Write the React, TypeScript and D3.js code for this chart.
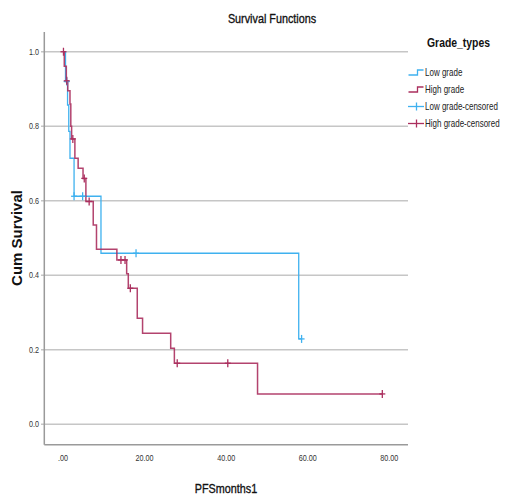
import React from "react";
import * as d3 from "d3";

const yTicks = [0, 0.2, 0.4, 0.6, 0.8, 1.0];
const xTicks = [0, 20, 40, 60, 80];

const lowTimes = [0, 0.6, 1.1, 1.4, 1.7, 2.7, 9.3, 57.8];
const lowSurv = [1.0, 0.92, 0.857, 0.786, 0.714, 0.612, 0.459, 0.229];
const lowEnd = 58.5;
const lowCensorT = [0.9, 2.7, 4.8, 17.9, 58.5];
const lowCensorS = [0.92, 0.612, 0.612, 0.459, 0.229];

const highTimes = [0, 0.3, 0.8, 1.15, 1.7, 1.9, 2.1, 2.9, 3.7, 4.9, 5.6, 7.4, 8.2, 13.2, 15.6, 16.0, 18.2, 19.5, 26.4, 27.3, 47.7];
const highSurv = [1.0, 0.961, 0.922, 0.895, 0.86, 0.8, 0.766, 0.714, 0.687, 0.66, 0.598, 0.535, 0.47, 0.441, 0.404, 0.365, 0.2845, 0.244, 0.204, 0.1637, 0.0813];
const highEnd = 78.3;
const highCensorT = [0.1, 0.9, 2.4, 5.2, 6.4, 14.2, 15.2, 16.5, 28.0, 40.4, 78.3];
const highCensorS = [1.0, 0.922, 0.766, 0.66, 0.598, 0.441, 0.441, 0.365, 0.1637, 0.1637, 0.0813];

const legendLabels = ["Low grade", "High grade", "Low grade-censored", "High grade-censored"];

const BLUE = "#3fb1ef";
const RED = "#ab2f5e";
const SANS = "'Liberation Sans', Arial, sans-serif";
const SQ = 0.8;

function NText(props: {
  x: number;
  y: number;
  size: number;
  anchor?: string;
  weight?: string;
  fill?: string;
  dy?: string;
  heavy?: boolean;
  children: React.ReactNode;
}) {
  const { x, y, size, anchor, weight, fill, dy, heavy, children } = props;
  return (
    <text
      transform={`translate(${x},${y}) scale(${SQ},1)`}
      textAnchor={anchor || "start"}
      fontFamily={SANS}
      fontSize={size}
      fontWeight={weight || "normal"}
      fill={fill || "#222"}
      stroke={heavy ? fill || "#222" : "none"}
      strokeWidth={heavy ? 0.35 : 0}
      dy={dy}
    >
      {children}
    </text>
  );
}

export default function App() {
  const x = d3.scaleLinear().domain([-4.6, 84.6]).range([44.3, 408]);
  const y = d3.scaleLinear().domain([-0.055, 1.053]).range([444.7, 32]);

  const line = d3
    .line<[number, number]>()
    .x((d) => x(d[0]))
    .y((d) => y(d[1]))
    .curve(d3.curveStepAfter);

  const lowPts: [number, number][] = lowTimes.map((t, i) => [t, lowSurv[i]]);
  lowPts.push([lowEnd, lowSurv[lowSurv.length - 1]]);
  const highPts: [number, number][] = highTimes.map((t, i) => [t, highSurv[i]]);
  highPts.push([highEnd, highSurv[highSurv.length - 1]]);

  const plus = (t: number, s: number, color: string, key: string) => {
    const cx = x(t);
    const cy = y(s);
    return (
      <g key={key} stroke={color} strokeWidth={1.3}>
        <line x1={cx - 3} x2={cx + 3} y1={cy} y2={cy} />
        <line x1={cx} x2={cx} y1={cy - 4} y2={cy + 4} />
      </g>
    );
  };

  const legendY = [72.5, 89.5, 106.5, 123.5];
  const legendColors = [BLUE, RED, BLUE, RED];

  return (
    <svg
      width={505}
      height={500}
      style={{ position: "absolute", left: 0, top: 0, background: "#fff" }}
    >
      <NText x={272} y={22.5} size={13.5} anchor="middle" fill="#111" heavy>
        Survival Functions
      </NText>

      {/* gridlines */}
      {yTicks.map((v) => (
        <line key={"g" + v} x1={41} x2={408} y1={y(v)} y2={y(v)} stroke="#c6c6c6" strokeWidth={1.5} />
      ))}
      {/* axes */}
      <line x1={44.3} x2={44.3} y1={32} y2={444.7} stroke="#9a9a9a" strokeWidth={1.5} />
      <line x1={44.3} x2={408} y1={444.7} y2={444.7} stroke="#9a9a9a" strokeWidth={1.5} />

      {yTicks.map((v) => (
        <NText key={"yt" + v} x={39} y={y(v)} dy="0.35em" anchor="end" size={9} fill="#333">
          {v.toFixed(1)}
        </NText>
      ))}
      {xTicks.map((v) => (
        <NText key={"xt" + v} x={x(v)} y={461} anchor="middle" size={9} fill="#333">
          {v === 0 ? ".00" : v.toFixed(2)}
        </NText>
      ))}

      <text
        transform={`translate(22,238) rotate(-90)`}
        textAnchor="middle"
        fontFamily={SANS}
        fontWeight="bold"
        fontSize={15}
        fill="#111"
      >
        Cum Survival
      </text>
      <NText x={226} y={493} anchor="middle" size={13.5} fill="#111" heavy>
        PFSmonths1
      </NText>

      {/* curves */}
      <path d={line(lowPts) || ""} fill="none" stroke={BLUE} strokeWidth={1.3} />
      <path d={line(highPts) || ""} fill="none" stroke={RED} strokeWidth={1.5} strokeOpacity={0.9} />
      {lowCensorT.map((t, i) => plus(t, lowCensorS[i], BLUE, "lc" + i))}
      {highCensorT.map((t, i) => plus(t, highCensorS[i], RED, "hc" + i))}

      {/* legend */}
      <NText x={427} y={47} size={13} weight="bold" fill="#111">
        Grade_types
      </NText>
      {legendLabels.map((lab, i) => {
        const cy = legendY[i];
        const c = legendColors[i];
        return (
          <g key={lab}>
            {i < 2 ? (
              <path
                d={`M408.5,${cy + 2.5}H417.5V${cy - 2.5}H423.5`}
                fill="none"
                stroke={c}
                strokeWidth={1.3}
              />
            ) : (
              <g stroke={c} strokeWidth={1.3}>
                <line x1={408} x2={424} y1={cy} y2={cy} />
                <line x1={416.5} x2={416.5} y1={cy - 4} y2={cy + 4} />
              </g>
            )}
            <NText x={425} y={cy} dy="0.35em" size={10} fill="#222">
              {lab}
            </NText>
          </g>
        );
      })}
    </svg>
  );
}
